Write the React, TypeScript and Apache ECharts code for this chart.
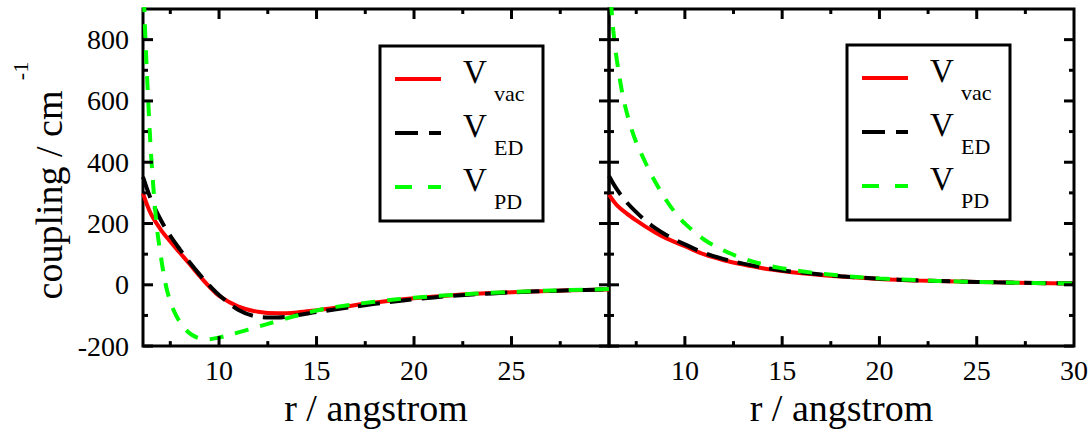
import React, { useEffect, useRef } from "react";
import * as echarts from "echarts";

const FONT = "Liberation Serif";

// x (angstrom) sample positions and coupling values (cm^-1)
const leftX = [6.1, 6.5, 7, 7.5, 8, 8.5, 9, 9.5, 10, 11, 12, 13, 14, 15, 16, 18, 20, 22, 24, 26, 28, 30];
const leftVac = [298, 232, 181, 141, 104, 67, 29, -6, -36, -71, -88, -93, -90, -83, -75, -58, -44, -34, -27, -22, -18, -15];
const leftED = [352, 280, 213, 160, 115, 73, 34, -2, -33, -82, -104, -107, -99, -89, -80, -62, -47, -36, -28, -22, -18, -15];
const leftPDX = [6.1, 6.22, 6.36, 6.53, 6.79, 7, 7.25, 7.5, 7.8, 8.2, 8.6, 9, 9.35, 10, 11, 12, 13, 14, 15, 16, 18, 20, 22, 24, 26, 28, 30];
const leftPD = [1020, 810, 610, 410, 200, 100, 5, -55, -100, -140, -163, -175, -178, -172, -155, -137, -118, -100, -84, -72, -55, -42, -33, -26, -21, -17, -14];

const rightX = [6.1, 6.5, 7, 7.5, 8, 8.5, 9, 9.5, 10, 11, 12, 13, 14, 15, 16, 18, 20, 22, 24, 26, 28, 30];
const rightVac = [294, 260, 233, 210, 189, 170, 153, 139, 126, 99, 80, 66, 54, 45, 38, 27, 19, 14, 11, 8, 6, 4];
const rightED = [355, 312, 270, 237, 208, 184, 164, 147, 132, 104, 84, 69, 57, 47, 40, 28, 20, 14, 11, 8, 6, 4];
const rightPDX = [6.1, 6.24, 6.32, 6.5, 6.83, 7.2, 7.52, 8, 8.25, 9, 9.57, 10, 11, 12, 13, 14, 15, 16, 18, 20, 22, 24, 26, 28, 30];
const rightPD = [1010, 890, 830, 735, 611, 520, 462, 395, 362, 280, 230, 200, 147, 112, 86, 67, 54, 44, 30, 21, 15, 11, 8, 6, 4];

const X_MIN = 6.1;
const X_MAX = 30;
const Y_MIN = -200;
const Y_MAX = 900;
const xMajor = [10, 15, 20, 25];
const xMinor = [7.5, 12.5, 17.5, 22.5, 27.5];
const leftXLabels = [10, 15, 20, 25];
const rightXLabels = [10, 15, 20, 25, 30];
const yMajor = [-200, 0, 200, 400, 600, 800];
const yMinor = [-100, 100, 300, 500, 700];

const seriesNames = ["vac", "ED", "PD"];
const seriesColors = ["#ff0000", "#000000", "#00ff00"];

const GRIDS = [
  { left: 143, top: 9, width: 466, height: 343 },
  { left: 609, top: 9, width: 466, height: 343 },
];

const zip = (xs: number[], ys: number[]) => xs.map((x, i) => [x, ys[i]]);

function xAx(gi: number, labels: number[], name: string) {
  return {
    type: "value",
    gridIndex: gi,
    position: "bottom",
    min: X_MIN,
    max: X_MAX,
    axisLine: { show: false, onZero: false },
    splitLine: { show: false },
    axisTick: { show: false },
    axisLabel: { show: true, customValues: labels, fontSize: 28, fontFamily: FONT, color: "#000", margin: 10 },
    name,
    nameLocation: "middle",
    nameGap: 42,
    nameTextStyle: { fontSize: 38, fontFamily: FONT, color: "#000" },
  };
}

function yAx(gi: number, labels: number[] | null) {
  return {
    type: "value",
    gridIndex: gi,
    position: "left",
    min: Y_MIN,
    max: Y_MAX,
    axisLine: { show: false, onZero: false },
    splitLine: { show: false },
    axisTick: { show: false },
    axisLabel: labels
      ? { show: true, customValues: labels, fontSize: 28, fontFamily: FONT, color: "#000", margin: 14 }
      : { show: false },
  };
}

function legendEls(dx: number, dy: number) {
  const els: any[] = [
    {
      type: "rect",
      shape: { x: 380 + dx, y: 46 + dy, width: 163, height: 175 },
      style: { fill: "#fff", stroke: "#000", lineWidth: 3 },
      z: 100,
    },
  ];
  const dashes = [null, [23, 11], [17, 16]];
  const subs = ["vac", "ED", "PD"];
  for (let i = 0; i < 3; i++) {
    const ly = 79 + dy + i * 54;
    els.push({
      type: "line",
      shape: { x1: 395 + dx, y1: ly, x2: 441 + dx, y2: ly },
      style: { stroke: seriesColors[i], lineWidth: 4, lineDash: dashes[i] || undefined },
      z: 101,
    });
    els.push({
      type: "text",
      x: 463 + dx,
      y: 72 + dy + i * 54,
      style: { text: "V", fontSize: 33, fontFamily: FONT, fill: "#000", verticalAlign: "middle", align: "left" },
      z: 101,
    });
    els.push({
      type: "text",
      x: 494 + dx,
      y: 93 + dy + i * 54,
      style: { text: subs[i], fontSize: 22, fontFamily: FONT, fill: "#000", verticalAlign: "middle", align: "left" },
      z: 101,
    });
  }
  return els;
}

function toPx(chart: any, gi: number, x: number, y: number): number[] {
  let p: any = null;
  try {
    p = chart.convertToPixel({ xAxisIndex: gi, yAxisIndex: gi }, [x, y]);
  } catch (e) {
    p = null;
  }
  if (p && isFinite(p[0]) && isFinite(p[1])) return p;
  const g = GRIDS[gi];
  return [
    g.left + ((x - X_MIN) / (X_MAX - X_MIN)) * g.width,
    g.top + g.height - ((y - Y_MIN) / (Y_MAX - Y_MIN)) * g.height,
  ];
}

function tickEls(chart: any) {
  const els: any[] = [];
  const st = { stroke: "#000", lineWidth: 3 };
  for (let gi = 0; gi < 2; gi++) {
    const lo = toPx(chart, gi, X_MIN, Y_MIN);
    const hi = toPx(chart, gi, X_MAX, Y_MAX);
    const addX = (vals: number[], len: number) => {
      vals.forEach((v) => {
        const px = toPx(chart, gi, v, Y_MIN)[0];
        els.push({ type: "line", shape: { x1: px, y1: lo[1], x2: px, y2: lo[1] - len }, style: st, z: 50 });
        els.push({ type: "line", shape: { x1: px, y1: hi[1], x2: px, y2: hi[1] + len }, style: st, z: 50 });
      });
    };
    const addY = (vals: number[], len: number) => {
      vals.forEach((v) => {
        const py = toPx(chart, gi, X_MIN, v)[1];
        els.push({ type: "line", shape: { x1: lo[0], y1: py, x2: lo[0] + len, y2: py }, style: st, z: 50 });
        els.push({ type: "line", shape: { x1: hi[0], y1: py, x2: hi[0] - len, y2: py }, style: st, z: 50 });
      });
    };
    addX(xMajor, 10);
    addX(xMinor, 5);
    addY(yMajor, 10);
    addY(yMinor, 5);
  }
  return els;
}

export default function App() {
  const ref = useRef<HTMLDivElement>(null);
  useEffect(() => {
    if (!ref.current) return;
    const chart = echarts.init(ref.current, undefined, { renderer: "svg" });
    const lineSeries = (name: string, data: number[][], gi: number, idx: number) => ({
      type: "line",
      name: "V" + name,
      xAxisIndex: gi,
      yAxisIndex: gi,
      data,
      showSymbol: false,
      smooth: 0.35,
      clip: true,
      lineStyle: {
        color: seriesColors[idx],
        width: 4,
        type: idx === 0 ? "solid" : idx === 1 ? [22, 10] : [14, 12],
        cap: "butt",
      },
      z: 2 + idx,
    });
    chart.setOption({
      animation: false,
      grid: GRIDS.map((g) => ({ ...g, show: true, borderColor: "#000", borderWidth: 3 })),
      xAxis: [xAx(0, leftXLabels, "r / angstrom"), xAx(1, rightXLabels, "r / angstrom")],
      yAxis: [yAx(0, yMajor), yAx(1, null)],
      series: [
        lineSeries(seriesNames[0], zip(leftX, leftVac), 0, 0),
        lineSeries(seriesNames[1], zip(leftX, leftED), 0, 1),
        lineSeries(seriesNames[2], zip(leftPDX, leftPD), 0, 2),
        lineSeries(seriesNames[0], zip(rightX, rightVac), 1, 0),
        lineSeries(seriesNames[1], zip(rightX, rightED), 1, 1),
        lineSeries(seriesNames[2], zip(rightPDX, rightPD), 1, 2),
      ],
    });
    const staticEls: any[] = [
      {
        type: "text",
        x: 49,
        y: 195,
        rotation: Math.PI / 2,
        style: { text: "coupling / cm", fontSize: 38, fontFamily: FONT, fill: "#000", align: "center", verticalAlign: "middle" },
      },
      {
        type: "text",
        x: 20,
        y: 71,
        rotation: Math.PI / 2,
        style: { text: "-1", fontSize: 22, fontFamily: FONT, fill: "#000", align: "center", verticalAlign: "middle" },
      },
      ...legendEls(0, 0),
      ...legendEls(467, -1),
    ];
    const ticks = tickEls(chart);
    chart.setOption({ graphic: [...ticks, ...staticEls] });
    return () => chart.dispose();
  }, []);
  return (
    <div
      ref={ref}
      style={{ position: "fixed", left: 0, top: 0, width: 1091, height: 432, background: "#fff" }}
    />
  );
}
